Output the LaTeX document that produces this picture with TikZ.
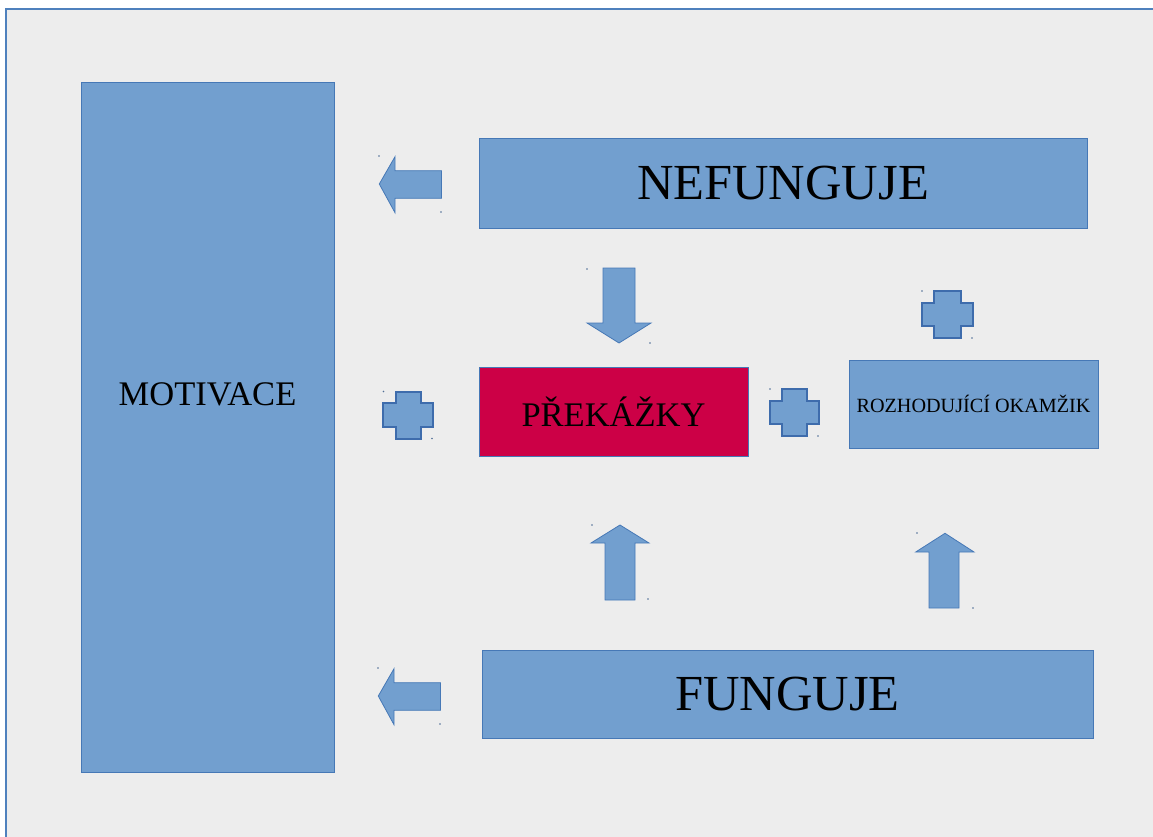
\documentclass[tikz,border=0pt]{standalone}
\usepackage{fontspec}
\setmainfont{Liberation Serif}
\definecolor{boxfill}{RGB}{114,159,207}
\definecolor{boxline}{RGB}{70,120,182}
\definecolor{plusline}{RGB}{62,108,172}
\definecolor{crimsonfill}{RGB}{204,0,70}
\definecolor{bgfill}{RGB}{237,237,237}
\definecolor{framecol}{RGB}{79,129,189}
\definecolor{dotcol}{RGB}{80,110,150}
\begin{document}
\begin{tikzpicture}[x=1pt,y=-1pt,
  box/.style 2 args={draw=boxline, line width=1pt, fill=boxfill, inner sep=0pt,
    minimum width=#1, minimum height=#2, text=black},
  blockarrow/.style={draw=boxline, line width=0.8pt, fill=boxfill, line join=miter},
  plusshape/.style={draw=plusline, line width=1.8pt, fill=boxfill, line join=miter},
  tinydot/.style={fill=dotcol, draw=none},
  bigtext/.style={font=\fontsize{50.5}{56}\selectfont},
  midtext/.style={font=\fontsize{34.5}{40}\selectfont},
  smalltext/.style={font=\fontsize{20.2}{24}\selectfont}]
\useasboundingbox (0,0) rectangle (1153,837);
\clip (0,0) rectangle (1153,837);
\fill[white] (0,0) rectangle (1153,837);
\draw[framecol, line width=1.8pt, fill=bgfill] (6.2,9.2) rectangle (1180,860);

% boxes
\node[box={253pt}{689pt}] (motiv) at (207.5,427.5) {};
\node[midtext] (motivtext) at (207.5,394) {MOTIVACE};
\node[box={608pt}{89pt}, bigtext] (nef) at (783,183.5) {NEFUNGUJE};
\node[box={611pt}{88pt}, bigtext] (fung) at (787.5,694) {FUNGUJE};
\node[box={269pt}{89pt}, fill=crimsonfill, midtext] (prek) at (613.5,411.5) {PŘEKÁŽKY};
\node[box={249pt}{88pt}, smalltext] (rozh) at (973.5,404) {ROZHODUJÍCÍ OKAMŽIK};

% block arrows
\draw[blockarrow] (379.3,184) -- (395,156.7) -- (395,170.7) -- (441.5,170.7) -- (441.5,198.3) -- (395,198.3) -- (395,212.7) -- cycle;
\draw[blockarrow] (378.3,696) -- (394,668.7) -- (394,682.7) -- (440.5,682.7) -- (440.5,710.3) -- (394,710.3) -- (394,724.7) -- cycle;
\draw[blockarrow] (603,268) -- (635,268) -- (635,323) -- (651,323) -- (619,343) -- (587,323) -- (603,323) -- cycle;
\draw[blockarrow] (620,525) -- (649,543) -- (635,543) -- (635,600) -- (605,600) -- (605,543) -- (591,543) -- cycle;
\draw[blockarrow] (945,533.3) -- (974,552) -- (959,552) -- (959,608) -- (929,608) -- (929,552) -- (915.7,552) -- cycle;

% plus signs
\draw[plusshape] (396,392) -- (421,392) -- (421,403) -- (433,403) -- (433,427) -- (421,427) -- (421,439) -- (396,439) -- (396,427) -- (383,427) -- (383,403) -- (396,403) -- cycle;
\draw[plusshape] (782,389) -- (807,389) -- (807,401) -- (819,401) -- (819,424) -- (807,424) -- (807,436) -- (782,436) -- (782,424) -- (770,424) -- (770,401) -- (782,401) -- cycle;
\draw[plusshape] (934,291) -- (961,291) -- (961,303) -- (973,303) -- (973,326) -- (961,326) -- (961,338) -- (934,338) -- (934,326) -- (922,326) -- (922,303) -- (934,303) -- cycle;

% tiny corner dots
\foreach \p in {(379,156),(441,212),(378,668),(440,724),(587,269),(650,343),(592,525),(648,599),(917,533),(973,608),(383.5,391.5),(432,438.5),(770,389),(818,436),(922,291),(972,338)}
  \fill[tinydot] \p circle (0.8);
\end{tikzpicture}
\end{document}
